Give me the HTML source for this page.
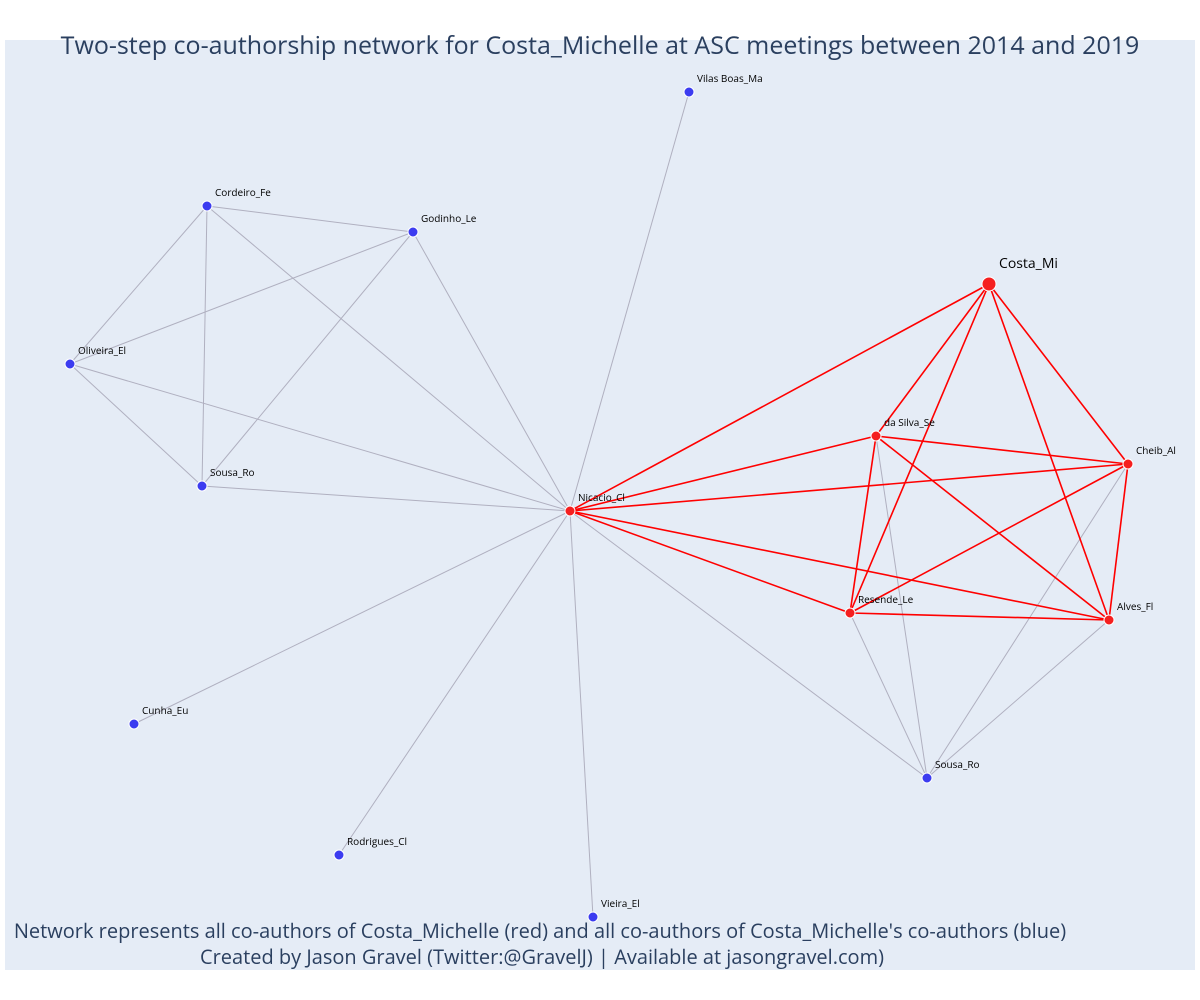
<!DOCTYPE html>
<html><head><meta charset="utf-8"><style>
body{margin:0;background:#fff;}
svg{display:block;font-family:"Open Sans","Liberation Sans","DejaVu Sans",sans-serif;}
</style></head><body>
<svg id="chart" width="1200" height="1000">
<rect x="5" y="40" width="1190" height="930" fill="#e5ecf6"/>
<g id="edges"></g>
<g id="nodes"></g>
<text x="600" y="54" text-anchor="middle" font-size="25" fill="#2a3f5f">Two-step co-authorship network for Costa_Michelle at ASC meetings between 2014 and 2019</text>
<text x="540" y="938" text-anchor="middle" font-size="20" fill="#2a3f5f">Network represents all co-authors of Costa_Michelle (red) and all co-authors of Costa_Michelle's co-authors (blue)</text>
<text x="542" y="964" text-anchor="middle" font-size="20" fill="#2a3f5f">Created by Jason Gravel (Twitter:@GravelJ) | Available at jasongravel.com)</text>
</svg>
<script>
const nodeNames=["Vilas Boas_Ma","Cordeiro_Fe","Godinho_Le","Oliveira_El","Sousa_Ro","Nicacio_Cl","Cunha_Eu","Rodrigues_Cl","Vieira_El","Costa_Mi","da Silva_Se","Cheib_Al","Resende_Le","Alves_Fl","Sousa_Ro"];
const nodeX=[684,202,408,65,197,565,129,334,588,984,871,1123,845,1104,922];
const nodeY=[52,166,192,324,446,471,684,815,877,244,396,424,573,580,738];
const nodeGroup=[0,0,0,0,0,1,0,0,0,2,1,1,1,1,0];
const grayEdges=[[0,5],[1,2],[1,3],[1,4],[1,5],[2,3],[2,4],[2,5],[3,4],[3,5],[4,5],[6,5],[7,5],[8,5],[5,14],[12,14],[10,14],[11,14],[13,14]];
const redEdges=[[9,5],[9,10],[9,12],[9,11],[9,13],[5,10],[5,11],[5,12],[5,13],[10,11],[10,12],[10,13],[11,12],[11,13],[12,13]];
const xScale=v=>5+v;
const yScale=v=>40+v;
const NS="http://www.w3.org/2000/svg";
const eg=document.getElementById('edges'),ng=document.getElementById('nodes');
function drawEdges(list,color,w,name){
 list.forEach(([a,b])=>{
  const l=document.createElementNS(NS,'line');
  l.setAttribute('x1',xScale(nodeX[a]));l.setAttribute('y1',yScale(nodeY[a]));
  l.setAttribute('x2',xScale(nodeX[b]));l.setAttribute('y2',yScale(nodeY[b]));
  l.setAttribute('stroke',color);l.setAttribute('stroke-width',w);
  
  
  eg.appendChild(l);
 });
}
drawEdges(grayEdges,'#b0b0c0',1,'coauthor-edge');
drawEdges(redEdges,'#ff0000',1.6,'direct-coauthor-edge');
nodeNames.forEach((n,i)=>{
 const cx=xScale(nodeX[i]),cy=yScale(nodeY[i]);
 const c=document.createElementNS(NS,'circle');
 c.setAttribute('cx',cx);c.setAttribute('cy',cy);
 c.setAttribute('r',nodeGroup[i]===2?7:5);
 c.setAttribute('fill',nodeGroup[i]?'#f51f1f':'#3c3cf0');
 c.setAttribute('stroke','#fff');c.setAttribute('stroke-width',1);
 
 
 ng.appendChild(c);
 const t=document.createElementNS(NS,'text');
 const big=nodeGroup[i]===2;
 t.setAttribute('x',cx+(big?10:8));t.setAttribute('y',cy-(big?16:10));
 t.setAttribute('font-size',big?14:10);t.setAttribute('fill','#000');
 t.textContent=n;
 
 
 ng.appendChild(t);
});
</script>
</body></html>
